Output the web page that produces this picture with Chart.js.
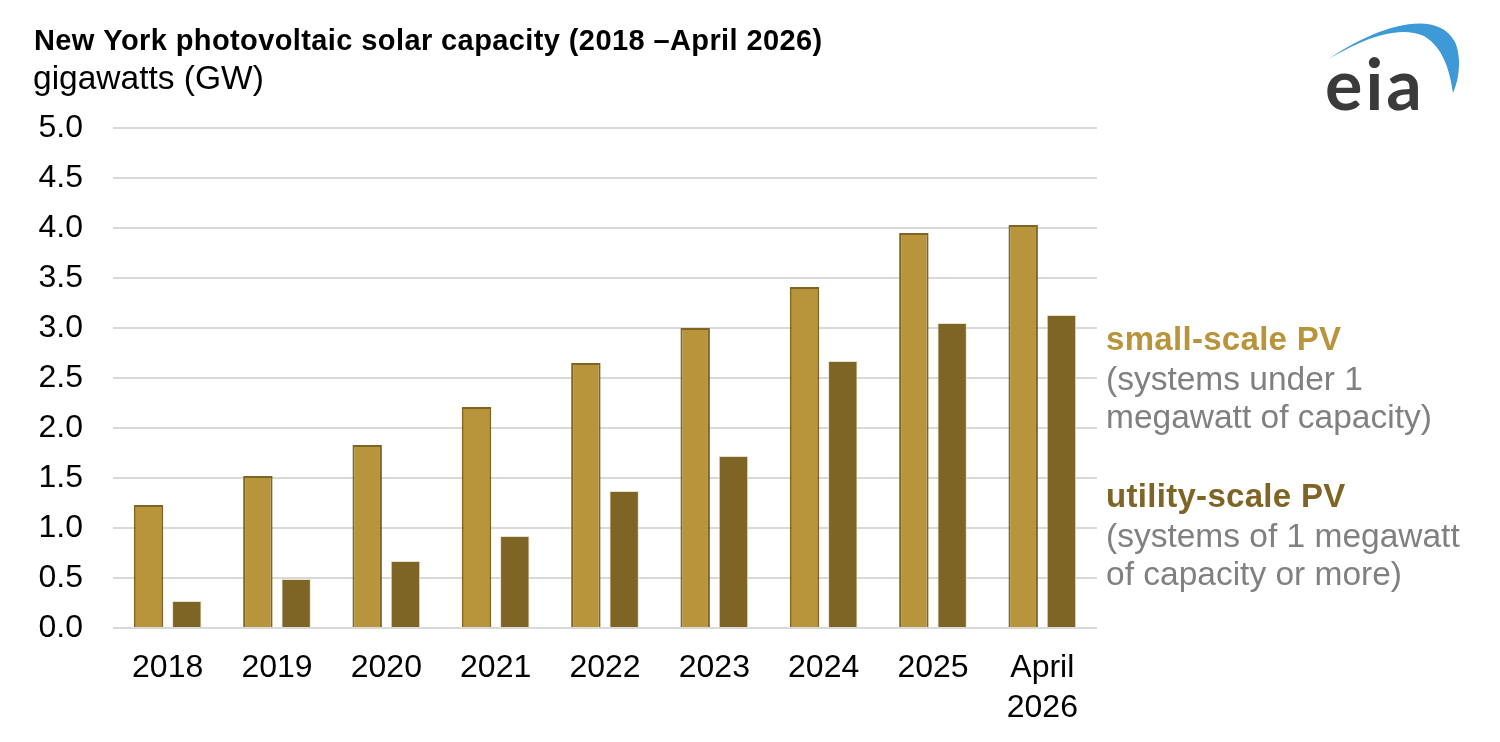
<!DOCTYPE html>
<html lang="en">
<head>
  <meta charset="UTF-8">
  <title>New York photovoltaic solar capacity</title>
  <script src="https://cdn.jsdelivr.net/npm/chart.js"></script>
  <style>
    html, body {
      margin: 0;
      padding: 0;
      background: #fff;
    }
    #wrap {
      width: 1500px;
      height: 742px;
      position: relative;
    }
  </style>
</head>
<body>
  <div id="wrap">
    <canvas id="solarChart" width="1500" height="742"></canvas>
  </div>

  <script>
    // data (GW)
    const years = ['2018', '2019', '2020', '2021', '2022', '2023', '2024', '2025', ['April', '2026']];
    const smallScale = [1.23, 1.52, 1.83, 2.21, 2.65, 3.00, 3.41, 3.95, 4.03];
    const utilityScale = [0.27, 0.49, 0.67, 0.92, 1.37, 1.72, 2.67, 3.05, 3.13];
    const yTicks = [0, 0.5, 1, 1.5, 2, 2.5, 3, 3.5, 4, 4.5, 5];

    const titleText = 'New York photovoltaic solar capacity (2018 \u2013April 2026)';
    const unitText = 'gigawatts (GW)';
    const legendLines = [
      { text: 'small-scale PV', bold: true, color: '#b8943a', y: 350 },
      { text: '(systems under 1', bold: false, color: '#808080', y: 390 },
      { text: 'megawatt of capacity)', bold: false, color: '#808080', y: 428 },
      { text: 'utility-scale PV', bold: true, color: '#7f6525', y: 507 },
      { text: '(systems of 1 megawatt', bold: false, color: '#808080', y: 547 },
      { text: 'of capacity or more)', bold: false, color: '#808080', y: 585 }
    ];

    const FONT = '"Liberation Sans", Arial, Helvetica, sans-serif';

    // title, unit, side labels and the eia logo
    const decorations = {
      id: 'decorations',
      afterDraw(chart) {
        const ctx = chart.ctx;
        ctx.save();
        ctx.textAlign = 'left';
        ctx.textBaseline = 'alphabetic';

        ctx.fillStyle = '#000';
        ctx.font = 'bold 29px ' + FONT;
        ctx.letterSpacing = '0.4px';
        ctx.fillText(titleText, 34, 50);
        ctx.letterSpacing = '0px';

        ctx.font = '33.5px ' + FONT;
        ctx.fillText(unitText, 33, 89);

        legendLines.forEach(l => {
          ctx.fillStyle = l.color;
          if (l.bold) {
            ctx.font = 'bold 33px ' + FONT;
            ctx.letterSpacing = '0.3px';
          } else {
            ctx.font = '33.5px ' + FONT;
            ctx.letterSpacing = '0px';
          }
          ctx.fillText(l.text, 1106, l.y);
        });
        ctx.letterSpacing = '0px';

        // eia swoosh
        ctx.fillStyle = '#3d9ad6';
        ctx.beginPath();
        ctx.moveTo(1327, 60);
        ctx.bezierCurveTo(1370, 30, 1435, 5, 1455, 42);
        ctx.bezierCurveTo(1462, 58, 1459, 80, 1453, 93);
        ctx.bezierCurveTo(1450, 72, 1444, 48, 1424, 36);
        ctx.bezierCurveTo(1395, 24, 1358, 42, 1327, 60);
        ctx.closePath();
        ctx.fill();

        ctx.fillStyle = '#3a3a3a';
        ctx.font = 'bold 70px Lato, "Open Sans", sans-serif';
        ctx.letterSpacing = '3px';
        ctx.fillText('eia', 1325, 110);
        ctx.letterSpacing = '0px';
        ctx.restore();
      }
    };

    const ctx = document.getElementById('solarChart').getContext('2d');
    const chart = new Chart(ctx, {
      type: 'bar',
      data: {
        labels: years,
        datasets: [{
          label: 'small-scale PV',
          data: smallScale,
          backgroundColor: '#b8943a',
          borderColor: '#7f6525',
          borderWidth: 2,
          categoryPercentage: 0.7,
          barPercentage: 0.77
        }, {
          label: 'utility-scale PV',
          data: utilityScale,
          backgroundColor: '#7f6525',
          borderColor: '#e9e1cd',
          borderWidth: 1,
          categoryPercentage: 0.7,
          barPercentage: 0.77
        }]
      },
      options: {
        responsive: false,
        animation: false,
        events: [],
        layout: {
          padding: { top: 128, right: 403, bottom: 0, left: 0 }
        },
        plugins: {
          legend: { display: false },
          tooltip: { enabled: false }
        },
        scales: {
          x: {
            grid: { display: false },
            border: { display: false },
            ticks: {
              color: '#000',
              padding: 12,
              maxRotation: 0,
              font: { family: FONT, size: 32, lineHeight: 1.25 }
            },
            afterFit(scale) { scale.height = 114; }
          },
          y: {
            min: 0,
            max: 5,
            afterBuildTicks(scale) {
              scale.ticks = yTicks.map(v => ({ value: v }));
            },
            grid: { color: '#d9d9d9', lineWidth: 2, drawTicks: false },
            border: { display: false },
            ticks: {
              color: '#000',
              padding: 30,
              font: { family: FONT, size: 32 },
              callback: v => v.toFixed(1)
            },
            afterFit(scale) { scale.width = 113; }
          }
        }
      },
      plugins: [decorations]
    });
  </script>
</body>
</html>
